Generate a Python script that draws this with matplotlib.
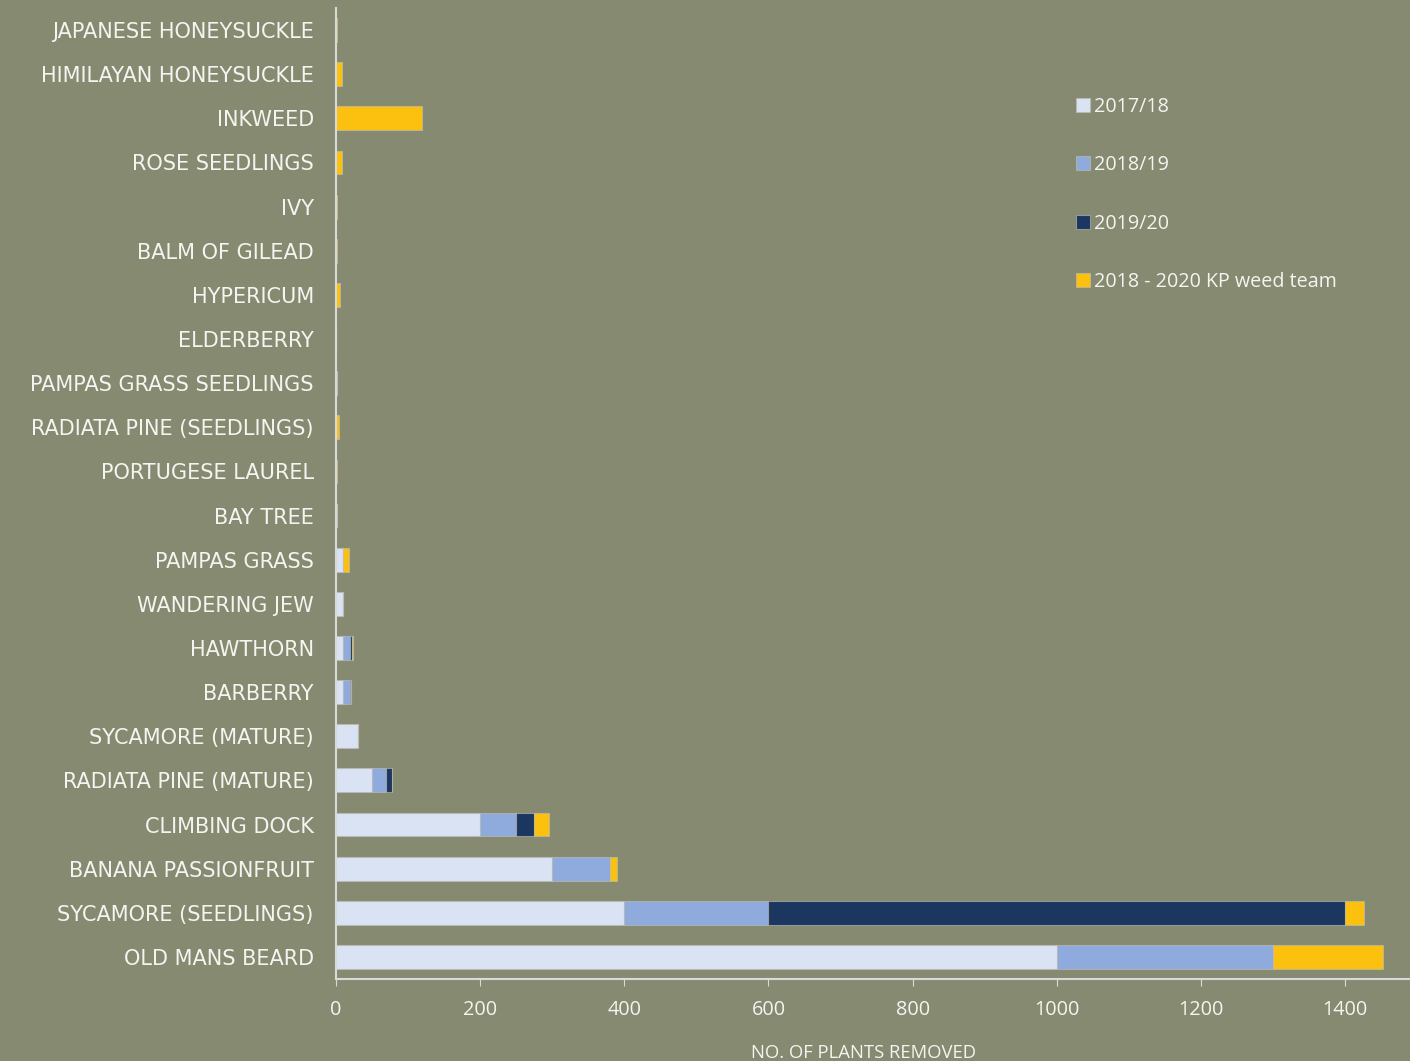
import matplotlib.pyplot as plt
import numpy as np

plt.rcParams['font.family'] = ['Open Sans', 'DejaVu Sans']

# species, bottom row first
species = ["OLD MANS BEARD", "SYCAMORE (SEEDLINGS)", "BANANA PASSIONFRUIT", "CLIMBING DOCK",
           "RADIATA PINE (MATURE)", "SYCAMORE (MATURE)", "BARBERRY", "HAWTHORN",
           "WANDERING JEW", "PAMPAS GRASS", "BAY TREE", "PORTUGESE LAUREL",
           "RADIATA PINE (SEEDLINGS)", "PAMPAS GRASS SEEDLINGS", "ELDERBERRY", "HYPERICUM",
           "BALM OF GILEAD", "IVY", "ROSE SEEDLINGS", "INKWEED",
           "HIMILAYAN HONEYSUCKLE", "JAPANESE HONEYSUCKLE"]

y2017 = [1000, 400, 300, 200, 50, 30, 10, 10, 10, 10, 1, 0, 0, 0, 0, 0, 0, 0, 0, 0, 0, 0]
y2018 = [300, 200, 80, 50, 20, 0, 10, 10, 0, 0, 0, 0, 0, 2, 0, 0, 0, 0, 0, 0, 0, 0]
y2019 = [0, 800, 0, 25, 8, 0, 1, 2, 0, 0, 0, 0, 0, 0, 0, 0, 0, 0, 0, 0, 0, 0]
kp_team = [152, 26, 10, 20, 0, 0, 0, 1, 0, 8, 0, 2, 4, 0, 0, 5, 2, 2, 8, 120, 9, 1]

series = [("2017/18", y2017, "#DAE3F3"),
          ("2018/19", y2018, "#8FAADC"),
          ("2019/20", y2019, "#1B365F"),
          ("2018 - 2020 KP weed team", kp_team, "#FCC10F")]

bg = "#868A71"
txt = "#F4F4F0"

fig = plt.figure(figsize=(14.1, 10.61), dpi=100, facecolor=bg)
ax = fig.add_axes([336 / 1410, 1 - 979 / 1061, 1 - 336 / 1410, (979 - 8) / 1061])
ax.set_facecolor(bg)

pos = np.arange(len(species))
left = np.zeros(len(species))
for name, vals, col in series:
    vals = np.array(vals, dtype=float)
    ax.barh(pos, vals, left=left, height=0.54, color=col, label=name,
            edgecolor=(0.75, 0.75, 0.72, 0.6), linewidth=0.8)
    left += vals

ax.set_ylim(-0.5, len(species) - 0.5)
ax.set_xlim(0, 1490)
ax.set_xticks(range(0, 1500, 200))
ax.set_yticks(pos)
ax.set_yticklabels(species, color=txt, family="DejaVu Sans", fontsize=15)
ax.tick_params(axis="y", length=0, pad=16)
ax.tick_params(axis="x", colors="#D9D9D9", labelcolor=txt, labelsize=14.3, length=5, pad=10)

for s in ["top", "right"]:
    ax.spines[s].set_visible(False)
for s in ["left", "bottom"]:
    ax.spines[s].set_color("#D9D9D9")
    ax.spines[s].set_linewidth(1.5)

fig.text(863 / 1410, 1 - 1053 / 1061, "NO. OF PLANTS REMOVED",
         ha="center", va="center", fontsize=13.3, color=txt)

fig.legend(loc="upper left", bbox_to_anchor=(1058 / 1410, 1 - 79 / 1061), frameon=False,
           labelcolor=txt, labelspacing=1.95, handlelength=0.7,
           handleheight=0.7, handletextpad=0.25, prop={"family": "Open Sans", "size": 14.2})

fig.savefig("out.png", dpi=100, facecolor=bg)
